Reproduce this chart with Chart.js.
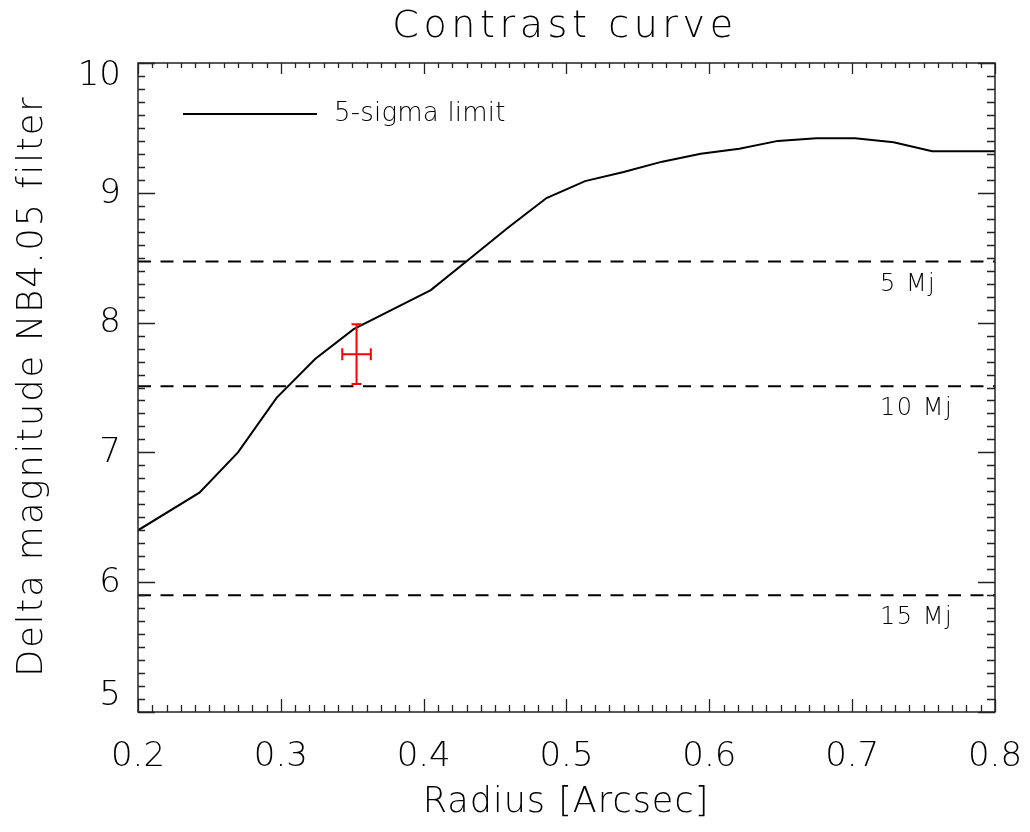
<!DOCTYPE html>
<html>
<head>
<meta charset="utf-8">
<script src="https://cdn.jsdelivr.net/npm/chart.js@4.4.1/dist/chart.umd.min.js"></script>
<style>
  html, body { margin: 0; padding: 0; background: #fff; }
  #wrap { width: 1030px; height: 832px; }
</style>
</head>
<body>
<div id="wrap"><canvas id="contrast-chart" width="1030" height="832"></canvas></div>
<script>
// contrast curve
const radius = [0.200, 0.243, 0.270, 0.297, 0.324, 0.351, 0.378, 0.405, 0.432, 0.459, 0.486,
                0.513, 0.540, 0.567, 0.594, 0.621, 0.648, 0.675, 0.702, 0.729, 0.756, 0.800];
const contrast = [6.40, 6.69, 7.00, 7.42, 7.72, 7.95, 8.10, 8.25, 8.49, 8.73, 8.96,
                  9.09, 9.16, 9.24, 9.30, 9.34, 9.40, 9.42, 9.42, 9.39, 9.32, 9.32];

// mass limits (dashed lines)
const massLabels = ['5 Mj', '10 Mj', '15 Mj'];
const massLimits = [8.47, 7.51, 5.90];

// companion point with error bars
const compX = [0.353];
const compXErr = [0.010];
const compY = [7.757];
const compYErr = [0.23];

const xTicks = [0.2, 0.3, 0.4, 0.5, 0.6, 0.7, 0.8];
const yTicks = [5, 6, 7, 8, 9, 10];

const FONT = "'DejaVu Sans', sans-serif";
const W = '200 ';

const massDatasets = massLimits.map((lim, i) => ({
    label: massLabels[i],
    data: [{x: 0.2, y: lim}, {x: 0.8, y: lim}],
    borderColor: '#000',
    borderWidth: 2,
    borderDash: [13, 9.5],
    pointRadius: 0,
}));

// frame, inward ticks, texts, error bar
const decorations = {
    id: 'decorations',
    afterDatasetsDraw(chart) {
        const ctx = chart.ctx;
        const area = chart.chartArea;
        const xs = chart.scales.x, ys = chart.scales.y;
        ctx.save();

        // error bar
        ctx.strokeStyle = '#ff0000';
        ctx.lineWidth = 2;
        compX.forEach((cx, i) => {
            const px = xs.getPixelForValue(cx);
            const py = ys.getPixelForValue(compY[i]);
            const x0 = xs.getPixelForValue(cx - compXErr[i]);
            const x1 = xs.getPixelForValue(cx + compXErr[i]);
            const y0 = ys.getPixelForValue(compY[i] - compYErr[i]);
            const y1 = ys.getPixelForValue(compY[i] + compYErr[i]);
            ctx.beginPath();
            ctx.moveTo(x0, py); ctx.lineTo(x1, py);
            ctx.moveTo(px, y0); ctx.lineTo(px, y1);
            ctx.moveTo(x0, py - 6); ctx.lineTo(x0, py + 6);
            ctx.moveTo(x1, py - 6); ctx.lineTo(x1, py + 6);
            ctx.moveTo(px - 5, y0); ctx.lineTo(px + 5, y0);
            ctx.moveTo(px - 5, y1); ctx.lineTo(px + 5, y1);
            ctx.stroke();
        });

        // frame
        ctx.strokeStyle = '#222';
        ctx.lineWidth = 1.5;
        ctx.strokeRect(area.left, area.top, area.right - area.left, area.bottom - area.top);

        // minor + major ticks pointing inward
        ctx.lineWidth = 1.3;
        ctx.beginPath();
        for (let k = 0; k <= 60; k++) {
            const v = 0.2 + k * 0.01;
            const px = Math.round(xs.getPixelForValue(v)) + 0.5;
            const major = k % 10 === 0;
            ctx.moveTo(px, area.bottom); ctx.lineTo(px, area.bottom - (major ? 13 : 7));
            ctx.moveTo(px, area.top); ctx.lineTo(px, area.top + (major ? 11 : 5));
        }
        for (let k = 0; k <= 50; k++) {
            const v = 5 + k * 0.1;
            const py = Math.round(ys.getPixelForValue(v)) + 0.5;
            const major = k % 10 === 0;
            ctx.moveTo(area.left, py); ctx.lineTo(area.left + (major ? 17 : 7), py);
            ctx.moveTo(area.right, py); ctx.lineTo(area.right - (major ? 17 : 8), py);
        }
        ctx.stroke();

        ctx.fillStyle = '#000';

        // y tick labels, kept inside the frame at the ends
        ctx.font = W + '34px ' + FONT;
        ctx.textAlign = 'right';
        ctx.textBaseline = 'middle';
        yTicks.forEach(t => {
            let py = ys.getPixelForValue(t);
            py = Math.max(area.top + 12, Math.min(area.bottom - 17, py));
            ctx.fillText(String(t), 121, py + 1);
        });

        // mass labels
        ctx.font = W + '24px ' + FONT;
        ctx.textAlign = 'left';
        ctx.letterSpacing = '1.5px';
        massLimits.forEach((lim, i) => {
            ctx.fillText(massLabels[i], 880, ys.getPixelForValue(lim) + 23);
        });

        // legend
        ctx.strokeStyle = '#000';
        ctx.lineWidth = 2;
        ctx.beginPath();
        ctx.moveTo(183, 114); ctx.lineTo(317, 114);
        ctx.stroke();
        ctx.letterSpacing = '0.2px';
        ctx.font = W + '26px ' + FONT;
        ctx.fillText('5-sigma limit', 334, 114);

        // title
        ctx.textAlign = 'center';
        ctx.font = W + '38px ' + FONT;
        ctx.letterSpacing = '4.6px';
        ctx.fillText('Contrast curve', 565, 27);

        // axis titles
        ctx.font = W + '35px ' + FONT;
        ctx.letterSpacing = '1px';
        ctx.fillText('Radius [Arcsec]', 566, 803);
        ctx.translate(33, 386);
        ctx.rotate(-Math.PI / 2);
        ctx.letterSpacing = '2px';
        ctx.fillText('Delta magnitude NB4.05 filter', 0, 0);
        ctx.restore();
    }
};

const ctx = document.getElementById('contrast-chart').getContext('2d');
const chart = new Chart(ctx, {
    type: 'line',
    data: {
        datasets: [{
            label: '5-sigma limit',
            data: radius.map((r, i) => ({x: r, y: contrast[i]})),
            borderColor: '#000',
            borderWidth: 2,
            pointRadius: 0,
            tension: 0,
        }, ...massDatasets]
    },
    options: {
        responsive: false,
        animation: false,
        devicePixelRatio: 1,
        layout: {padding: {top: 63, right: 35, left: 0, bottom: 0}},
        plugins: {legend: {display: false}, tooltip: {enabled: false}, title: {display: false}},
        scales: {
            x: {
                type: 'linear', min: 0.2, max: 0.8,
                afterFit: s => { s.height = 120; s.paddingLeft = 0; s.paddingRight = 0; },
                afterBuildTicks: s => { s.ticks = xTicks.map(v => ({value: v})); },
                grid: {display: false, drawTicks: false},
                border: {display: false},
                ticks: {
                    font: {family: FONT, size: 34, weight: '200', lineHeight: 1},
                    color: '#000',
                    padding: 28,
                    maxRotation: 0,
                    callback: v => v.toFixed(1),
                },
            },
            y: {
                type: 'linear', min: 5, max: 10,
                afterFit: s => { s.width = 138; s.paddingTop = 0; s.paddingBottom = 0; },
                afterBuildTicks: s => { s.ticks = yTicks.map(v => ({value: v})); },
                grid: {display: false, drawTicks: false},
                border: {display: false},
                ticks: {display: false},
            }
        }
    },
    plugins: [decorations]
});
</script>
</body>
</html>
